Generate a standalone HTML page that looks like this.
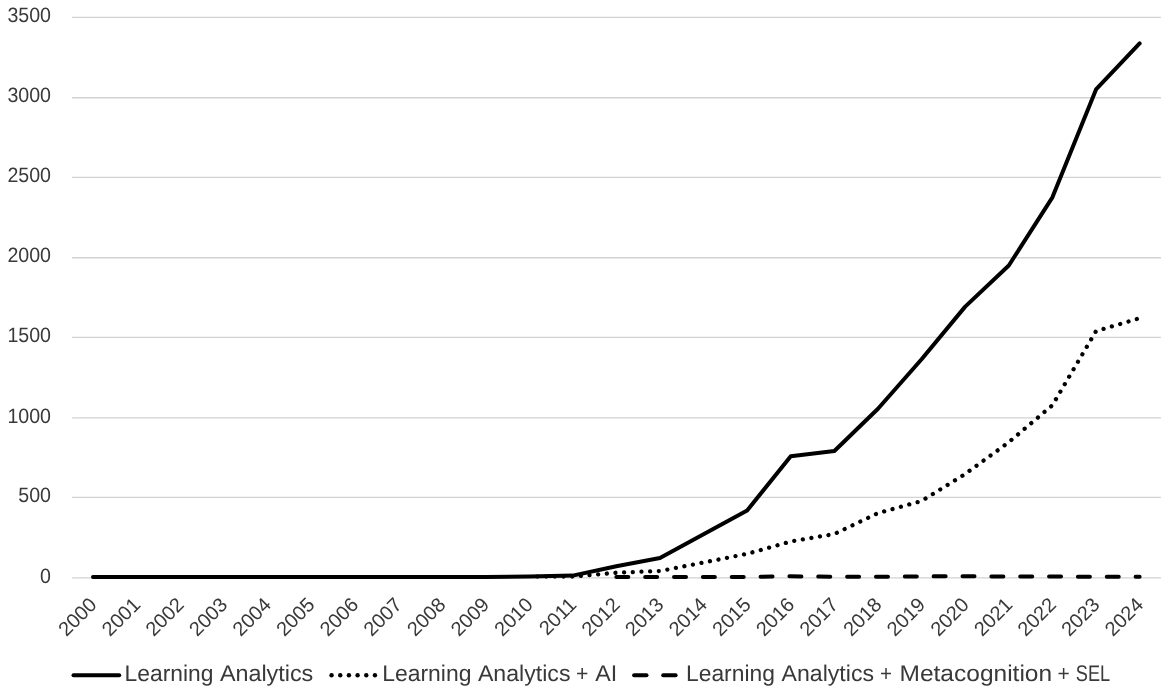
<!DOCTYPE html><html><head><meta charset="utf-8"><style>html,body{margin:0;padding:0;background:#fff;}svg{display:block;will-change:transform;}text{font-family:"Liberation Sans",sans-serif;text-rendering:geometricPrecision;}</style></head><body>
<svg width="1169" height="694" viewBox="0 0 1169 694">
<rect width="1169" height="694" fill="#fff"/>
<line x1="72.1" y1="17.35" x2="1161.0" y2="17.35" stroke="#d2d2d2" stroke-width="1.4"/>
<line x1="72.1" y1="97.68" x2="1161.0" y2="97.68" stroke="#d2d2d2" stroke-width="1.4"/>
<line x1="72.1" y1="177.35" x2="1161.0" y2="177.35" stroke="#d2d2d2" stroke-width="1.4"/>
<line x1="72.1" y1="257.74" x2="1161.0" y2="257.74" stroke="#d2d2d2" stroke-width="1.4"/>
<line x1="72.1" y1="337.35" x2="1161.0" y2="337.35" stroke="#d2d2d2" stroke-width="1.4"/>
<line x1="72.1" y1="417.83" x2="1161.0" y2="417.83" stroke="#d2d2d2" stroke-width="1.4"/>
<line x1="72.1" y1="497.42" x2="1161.0" y2="497.42" stroke="#d2d2d2" stroke-width="1.4"/>
<line x1="72.1" y1="577.89" x2="1161.0" y2="577.89" stroke="#d2d2d2" stroke-width="1.4"/>
<text x="51.0" y="22.05" font-size="20.7" fill="#393939" text-anchor="end" textLength="43.6" lengthAdjust="spacingAndGlyphs">3500</text>
<text x="51.0" y="102.38" font-size="20.7" fill="#393939" text-anchor="end" textLength="43.6" lengthAdjust="spacingAndGlyphs">3000</text>
<text x="51.0" y="182.05" font-size="20.7" fill="#393939" text-anchor="end" textLength="43.6" lengthAdjust="spacingAndGlyphs">2500</text>
<text x="51.0" y="262.44" font-size="20.7" fill="#393939" text-anchor="end" textLength="43.6" lengthAdjust="spacingAndGlyphs">2000</text>
<text x="51.0" y="342.05" font-size="20.7" fill="#393939" text-anchor="end" textLength="43.6" lengthAdjust="spacingAndGlyphs">1500</text>
<text x="51.0" y="422.53" font-size="20.7" fill="#393939" text-anchor="end" textLength="43.6" lengthAdjust="spacingAndGlyphs">1000</text>
<text x="51.0" y="502.12" font-size="20.7" fill="#393939" text-anchor="end" textLength="32.7" lengthAdjust="spacingAndGlyphs">500</text>
<text x="51.0" y="582.59" font-size="20.7" fill="#393939" text-anchor="end" textLength="10.9" lengthAdjust="spacingAndGlyphs">0</text>
<text transform="translate(88.00,596.00) rotate(-45)" font-size="20" fill="#393939" text-anchor="end" dy="0.7em">2000</text>
<text transform="translate(131.61,596.00) rotate(-45)" font-size="20" fill="#393939" text-anchor="end" dy="0.7em">2001</text>
<text transform="translate(175.22,596.00) rotate(-45)" font-size="20" fill="#393939" text-anchor="end" dy="0.7em">2002</text>
<text transform="translate(218.83,596.00) rotate(-45)" font-size="20" fill="#393939" text-anchor="end" dy="0.7em">2003</text>
<text transform="translate(262.44,596.00) rotate(-45)" font-size="20" fill="#393939" text-anchor="end" dy="0.7em">2004</text>
<text transform="translate(306.05,596.00) rotate(-45)" font-size="20" fill="#393939" text-anchor="end" dy="0.7em">2005</text>
<text transform="translate(349.66,596.00) rotate(-45)" font-size="20" fill="#393939" text-anchor="end" dy="0.7em">2006</text>
<text transform="translate(393.27,596.00) rotate(-45)" font-size="20" fill="#393939" text-anchor="end" dy="0.7em">2007</text>
<text transform="translate(436.88,596.00) rotate(-45)" font-size="20" fill="#393939" text-anchor="end" dy="0.7em">2008</text>
<text transform="translate(480.49,596.00) rotate(-45)" font-size="20" fill="#393939" text-anchor="end" dy="0.7em">2009</text>
<text transform="translate(524.10,596.00) rotate(-45)" font-size="20" fill="#393939" text-anchor="end" dy="0.7em">2010</text>
<text transform="translate(567.71,596.00) rotate(-45)" font-size="20" fill="#393939" text-anchor="end" dy="0.7em">2011</text>
<text transform="translate(611.32,596.00) rotate(-45)" font-size="20" fill="#393939" text-anchor="end" dy="0.7em">2012</text>
<text transform="translate(654.93,596.00) rotate(-45)" font-size="20" fill="#393939" text-anchor="end" dy="0.7em">2013</text>
<text transform="translate(698.54,596.00) rotate(-45)" font-size="20" fill="#393939" text-anchor="end" dy="0.7em">2014</text>
<text transform="translate(742.15,596.00) rotate(-45)" font-size="20" fill="#393939" text-anchor="end" dy="0.7em">2015</text>
<text transform="translate(785.76,596.00) rotate(-45)" font-size="20" fill="#393939" text-anchor="end" dy="0.7em">2016</text>
<text transform="translate(829.37,596.00) rotate(-45)" font-size="20" fill="#393939" text-anchor="end" dy="0.7em">2017</text>
<text transform="translate(872.98,596.00) rotate(-45)" font-size="20" fill="#393939" text-anchor="end" dy="0.7em">2018</text>
<text transform="translate(916.59,596.00) rotate(-45)" font-size="20" fill="#393939" text-anchor="end" dy="0.7em">2019</text>
<text transform="translate(960.20,596.00) rotate(-45)" font-size="20" fill="#393939" text-anchor="end" dy="0.7em">2020</text>
<text transform="translate(1003.81,596.00) rotate(-45)" font-size="20" fill="#393939" text-anchor="end" dy="0.7em">2021</text>
<text transform="translate(1047.42,596.00) rotate(-45)" font-size="20" fill="#393939" text-anchor="end" dy="0.7em">2022</text>
<text transform="translate(1091.03,596.00) rotate(-45)" font-size="20" fill="#393939" text-anchor="end" dy="0.7em">2023</text>
<text transform="translate(1134.64,596.00) rotate(-45)" font-size="20" fill="#393939" text-anchor="end" dy="0.7em">2024</text>
<path d="M616.32,577.10 L659.93,577.00 L703.54,577.00 L747.15,576.90 L790.76,576.30 L834.37,576.80 L877.98,576.70 L921.59,576.40 L965.20,576.30 L1008.81,576.50 L1052.42,576.60 L1096.03,576.70 L1139.64,576.80" fill="none" stroke="#000" stroke-width="4.00" stroke-linecap="round" stroke-linejoin="round" stroke-dasharray="12.0 16.85"/>
<path d="M529.10,576.60 L572.71,576.50 L616.32,572.70 L659.93,571.00 L703.54,562.50 L747.15,553.80 L790.76,541.50 L834.37,534.00 L877.98,513.10 L921.59,501.00 L965.20,474.00 L1008.81,442.20 L1052.42,405.20 L1096.03,331.10 L1139.64,318.20" fill="none" stroke="#000" stroke-width="4.30" stroke-linecap="round" stroke-linejoin="round" stroke-dasharray="0.01 8.67" stroke-dashoffset="0.3"/>
<path d="M93.00,577.00 L136.61,577.00 L180.22,577.00 L223.83,577.00 L267.44,577.00 L311.05,577.00 L354.66,577.00 L398.27,577.00 L441.88,577.00 L485.49,577.00 L529.10,576.60 L572.71,575.60 L616.32,566.20 L659.93,558.00 L703.54,534.20 L747.15,510.50 L790.76,456.30 L834.37,451.00 L877.98,408.70 L921.59,359.20 L965.20,306.60 L1008.81,265.50 L1052.42,197.30 L1096.03,89.40 L1139.64,43.40" fill="none" stroke="#000" stroke-width="4.00" stroke-linecap="round" stroke-linejoin="round"/>
<line x1="73.5" y1="675.3" x2="119.2" y2="675.3" stroke="#000" stroke-width="4.00" stroke-linecap="round"/>
<g>
<text x="124.64" y="681.3" font-size="22.7" fill="#393939" textLength="88.83" lengthAdjust="spacingAndGlyphs">Learning</text>
<text x="219.90" y="681.3" font-size="22.7" fill="#393939" textLength="93.42" lengthAdjust="spacingAndGlyphs">Analytics</text>
<text x="382.23" y="681.3" font-size="22.7" fill="#393939" textLength="89.25" lengthAdjust="spacingAndGlyphs">Learning</text>
<text x="477.90" y="681.3" font-size="22.7" fill="#393939" textLength="92.61" lengthAdjust="spacingAndGlyphs">Analytics</text>
<text x="576.07" y="681.3" font-size="22.7" fill="#393939" textLength="12.37" lengthAdjust="spacingAndGlyphs">+</text>
<text x="595.20" y="681.3" font-size="22.7" fill="#393939" textLength="21.94" lengthAdjust="spacingAndGlyphs">AI</text>
<text x="686.04" y="681.3" font-size="22.7" fill="#393939" textLength="88.83" lengthAdjust="spacingAndGlyphs">Learning</text>
<text x="781.60" y="681.3" font-size="22.7" fill="#393939" textLength="92.41" lengthAdjust="spacingAndGlyphs">Analytics</text>
<text x="879.89" y="681.3" font-size="22.7" fill="#393939" textLength="12.01" lengthAdjust="spacingAndGlyphs">+</text>
<text x="899.51" y="681.3" font-size="22.7" fill="#393939" textLength="152.63" lengthAdjust="spacingAndGlyphs">Metacognition</text>
<text x="1057.58" y="681.3" font-size="22.7" fill="#393939" textLength="12.25" lengthAdjust="spacingAndGlyphs">+</text>
<text x="1075.80" y="681.3" font-size="22.7" fill="#393939" textLength="34.31" lengthAdjust="spacingAndGlyphs">SEL</text>
</g>
<circle cx="331.56" cy="675.3" r="2.2" fill="#000"/>
<circle cx="340.24" cy="675.3" r="2.2" fill="#000"/>
<circle cx="348.92" cy="675.3" r="2.2" fill="#000"/>
<circle cx="357.60" cy="675.3" r="2.2" fill="#000"/>
<circle cx="366.28" cy="675.3" r="2.2" fill="#000"/>
<circle cx="374.96" cy="675.3" r="2.2" fill="#000"/>
<line x1="634.1" y1="675.3" x2="646.5" y2="675.3" stroke="#000" stroke-width="4.00" stroke-linecap="round"/>
<line x1="663.2" y1="675.3" x2="675.6" y2="675.3" stroke="#000" stroke-width="4.00" stroke-linecap="round"/>
</svg></body></html>
